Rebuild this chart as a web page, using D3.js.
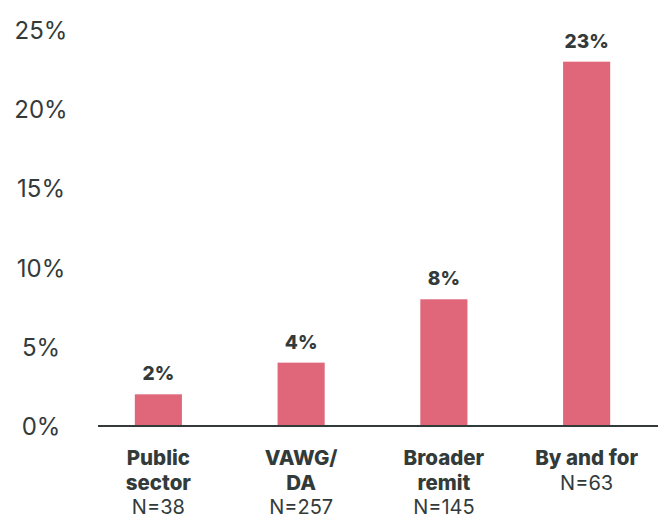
<!DOCTYPE html>
<html>
<head>
<meta charset="utf-8">
<script src="https://cdn.jsdelivr.net/npm/d3@7"></script>
<style>
  html, body { margin: 0; padding: 0; background: #ffffff; }
  svg { display: block; }
</style>
</head>
<body>
<svg id="chart" width="658" height="519"></svg>
<script>
// Share of organisations by type
const categories = ["Public sector", "VAWG/DA", "Broader remit", "By and for"];
const categoryLines = [["Public", "sector"], ["VAWG/", "DA"], ["Broader", "remit"], ["By and for"]];
const sampleSizes = ["N=38", "N=257", "N=145", "N=63"];
const values = [2, 4, 8, 23];
const yTicks = [0, 5, 10, 15, 20, 25];

const textColor = "#333b3a";
const barColor = "#e0677a";
const font = "Inter, 'Open Sans', sans-serif";

const svg = d3.select("#chart");

const x = d3.scaleBand()
  .domain(categories)
  .range([87, 658])
  .paddingInner(0.67)
  .paddingOuter(0.335);

const y = d3.scaleLinear()
  .domain([0, 25])
  .range([426, 30]);

// y-axis labels (no line, no tick marks)
const yAxis = d3.axisLeft(y)
  .tickValues(yTicks)
  .tickFormat(d => d + "%")
  .tickSize(0);

const yg = svg.append("g")
  .attr("transform", "translate(41,0)")
  .call(yAxis);
yg.select(".domain").remove();
yg.selectAll("text")
  .attr("x", 0)
  .attr("dy", "0.35em")
  .attr("text-anchor", "middle")
  .style("font-family", font)
  .style("font-size", "24px")
  .style("fill", textColor);

// bars
svg.append("g")
  .selectAll("rect")
  .data(values)
  .join("rect")
  .attr("x", (d, i) => x(categories[i]))
  .attr("width", x.bandwidth())
  .attr("y", d => y(d))
  .attr("height", d => y(0) - y(d))
  .attr("fill", barColor);

// value labels
svg.append("g")
  .selectAll("text")
  .data(values)
  .join("text")
  .attr("x", (d, i) => x(categories[i]) + x.bandwidth() / 2)
  .attr("y", d => y(d) - 14)
  .attr("text-anchor", "middle")
  .style("font-family", font)
  .style("font-weight", 800)
  .style("font-size", "19px")
  .style("fill", textColor)
  .text(d => d + "%");

// baseline
svg.append("line")
  .attr("x1", 98)
  .attr("x2", 658)
  .attr("y1", y(0))
  .attr("y2", y(0))
  .attr("stroke", textColor)
  .attr("stroke-width", 2);

// category labels with sample sizes
const cat = svg.append("g")
  .selectAll("text")
  .data(categories)
  .join("text")
  .attr("text-anchor", "middle")
  .attr("transform", d => `translate(${x(d) + x.bandwidth() / 2},0)`)
  .style("font-family", font)
  .style("fill", textColor);

cat.each(function (d, i) {
  const t = d3.select(this);
  categoryLines[i].forEach((line, j) => {
    t.append("tspan")
      .attr("x", 0)
      .attr("y", 465 + j * 24.5)
      .style("font-weight", 800)
      .style("font-size", "20.5px")
      .text(line);
  });
  t.append("tspan")
    .attr("x", 0)
    .attr("y", 465 + categoryLines[i].length * 24.5)
    .style("font-weight", 400)
    .style("font-size", "20px")
    .text(sampleSizes[i]);
});
</script>
</body>
</html>
